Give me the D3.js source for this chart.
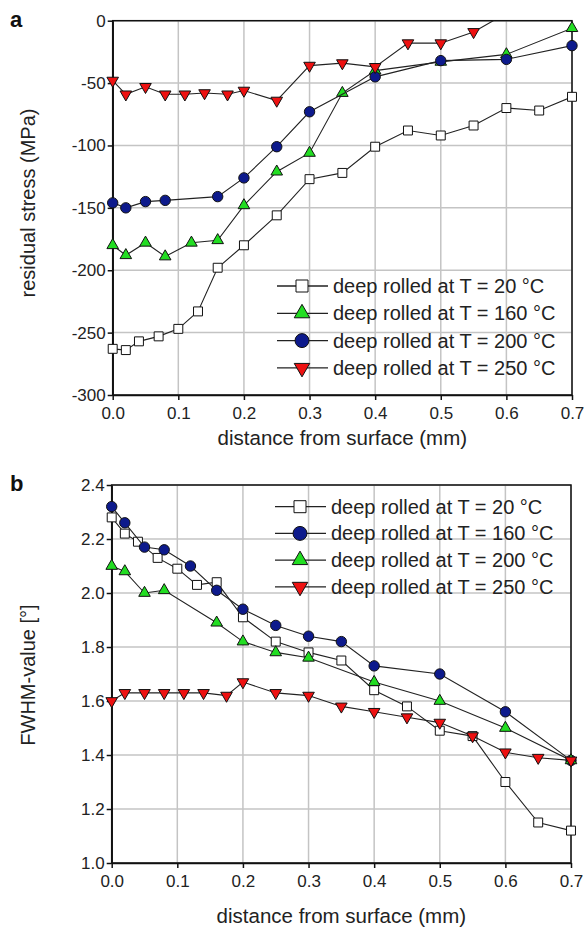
<!DOCTYPE html>
<html>
<head>
<meta charset="utf-8">
<script src="https://cdn.jsdelivr.net/npm/d3@7"></script>
<style>
  body { margin: 0; background: #fff; }
  svg { display: block; font-family: "Liberation Sans", Arial, sans-serif; }
</style>
</head>
<body>
<svg id="chart"></svg>
<script>
// ticks
const depthTicks = [0, 0.1, 0.2, 0.3, 0.4, 0.5, 0.6, 0.7];
const stressTicks = [0, -50, -100, -150, -200, -250, -300];
const fwhmTicks = [2.4, 2.2, 2.0, 1.8, 1.6, 1.4, 1.2, 1.0];

// panel a: residual stress (MPa)
const depthA20 = [0, 0.02, 0.04, 0.07, 0.1, 0.13, 0.16, 0.2, 0.25, 0.3, 0.35, 0.4, 0.45, 0.5, 0.55, 0.6, 0.65, 0.7];
const stressA20 = [-263, -264, -257, -253, -247, -233, -198, -180, -156, -127, -122, -101, -88, -92, -84, -70, -72, -61];
const depthA160 = [0, 0.02, 0.05, 0.08, 0.12, 0.16, 0.2, 0.25, 0.3, 0.35, 0.4, 0.5, 0.6, 0.7];
const stressA160 = [-180, -188, -178, -189, -178, -176, -148, -121, -106, -58, -40, -33, -27, -6];
const depthA200 = [0, 0.02, 0.05, 0.08, 0.16, 0.2, 0.25, 0.3, 0.4, 0.5, 0.6, 0.7];
const stressA200 = [-146, -150, -145, -144, -141, -126, -101, -73, -45, -32, -31, -20];
const depthA250 = [0, 0.02, 0.05, 0.08, 0.11, 0.14, 0.175, 0.2, 0.25, 0.3, 0.35, 0.4, 0.45, 0.5, 0.55, 0.6];
const stressA250 = [-48, -59, -53, -59, -59, -58, -59, -56, -64, -36, -34, -37, -18, -18, -9, 6];

// panel b: FWHM-value (°)
const depthB20 = [0, 0.02, 0.04, 0.07, 0.1, 0.13, 0.16, 0.2, 0.25, 0.3, 0.35, 0.4, 0.45, 0.5, 0.55, 0.6, 0.65, 0.7];
const fwhmB20 = [2.28, 2.22, 2.19, 2.13, 2.09, 2.03, 2.04, 1.91, 1.82, 1.78, 1.75, 1.64, 1.58, 1.49, 1.47, 1.30, 1.15, 1.12];
const depthB160 = [0, 0.02, 0.05, 0.08, 0.12, 0.16, 0.2, 0.25, 0.3, 0.35, 0.4, 0.5, 0.6, 0.7];
const fwhmB160 = [2.32, 2.26, 2.17, 2.16, 2.10, 2.01, 1.94, 1.88, 1.84, 1.82, 1.73, 1.70, 1.56, 1.38];
const depthB200 = [0, 0.02, 0.05, 0.08, 0.16, 0.2, 0.25, 0.3, 0.4, 0.5, 0.6, 0.7];
const fwhmB200 = [2.10, 2.08, 2.00, 2.01, 1.89, 1.82, 1.78, 1.76, 1.67, 1.60, 1.50, 1.38];
const depthB250 = [0, 0.02, 0.05, 0.08, 0.11, 0.14, 0.175, 0.2, 0.25, 0.3, 0.35, 0.4, 0.45, 0.5, 0.55, 0.6, 0.65, 0.7];
const fwhmB250 = [1.60, 1.63, 1.63, 1.63, 1.63, 1.63, 1.62, 1.67, 1.63, 1.62, 1.58, 1.56, 1.54, 1.52, 1.47, 1.41, 1.39, 1.38];

const labels = ["deep rolled at T = 20 °C", "deep rolled at T = 160 °C", "deep rolled at T = 200 °C", "deep rolled at T = 250 °C"];

const square = { shape: d3.symbolSquare, size: 80, rot: 0, fill: "#ffffff" };
const triUp = { shape: d3.symbolTriangle, size: 58, rot: 0, fill: "#22dd22" };
const circle = { shape: d3.symbolCircle, size: 85, rot: 0, fill: "#0d1a8c" };
const triDown = { shape: d3.symbolTriangle, size: 58, rot: 180, fill: "#ee1111" };

const zip = (xs, ys) => xs.map((x, i) => ({ x: x, y: ys[i] }));

const svg = d3.select("#chart")
    .attr("width", 585)
    .attr("height", 935);

function drawPanel(p) {
    const g = svg.append("g");
    const x = d3.scaleLinear().domain([0, 0.7]).range([p.left, p.right]);
    const y = d3.scaleLinear().domain(p.yDomain).range([p.bottom, p.top]);

  // gridlines
    g.selectAll(".vgrid")
        .data(depthTicks)
        .enter()
        .append("line")
        .attr("x1", d => x(d)).attr("x2", d => x(d))
        .attr("y1", p.top).attr("y2", p.bottom)
        .attr("stroke", "#c4c4c4")
        .attr("stroke-width", 1.5);

    g.selectAll(".hgrid")
        .data(p.yTicks)
        .enter()
        .append("line")
        .attr("x1", p.left).attr("x2", p.right)
        .attr("y1", d => y(d)).attr("y2", d => y(d))
        .attr("stroke", "#c4c4c4")
        .attr("stroke-width", 1.5);

  // axes
    const xAxis = g.append("g")
        .attr("transform", `translate(0,${p.bottom})`)
        .call(d3.axisBottom(x).tickValues(depthTicks).tickFormat(d3.format(".1f")).tickSize(5).tickSizeOuter(0));
    const yAxis = g.append("g")
        .attr("transform", `translate(${p.left},0)`)
        .call(d3.axisLeft(y).tickValues(p.yTicks).tickFormat(p.fmt).tickSize(5).tickSizeOuter(0));

    [xAxis, yAxis].forEach(a => {
        a.selectAll("path, line").attr("stroke", "#111").attr("stroke-width", 1.5);
        a.selectAll("text")
            .attr("font-size", 17)
            .attr("font-family", "Liberation Sans, Arial, sans-serif")
            .attr("fill", "#222");
    });
    xAxis.selectAll("text").attr("dy", "0.95em");
    yAxis.selectAll("text").attr("x", -7);

    g.append("rect")
        .attr("x", p.left).attr("y", p.top)
        .attr("width", p.right - p.left).attr("height", p.bottom - p.top)
        .attr("fill", "none")
        .attr("stroke", "#111")
        .attr("stroke-width", 1.5);

  // clip for lines
    const clipId = "clip-" + p.name;
    svg.append("clipPath").attr("id", clipId)
        .append("rect")
        .attr("x", p.left).attr("y", p.top)
        .attr("width", p.right - p.left).attr("height", p.bottom - p.top);

    const line = d3.line().x(d => x(d.x)).y(d => y(d.y));

  // series
    p.series.forEach(s => {
        g.append("path")
            .datum(s.data)
            .attr("d", line)
            .attr("fill", "none")
            .attr("stroke", "#222")
            .attr("stroke-width", 1.1)
            .attr("clip-path", `url(#${clipId})`);

        g.selectAll(null)
            .data(s.data.filter(d => d.y >= p.yDomain[0] && d.y <= p.yDomain[1]))
            .enter()
            .append("path")
            .attr("d", d3.symbol().type(s.sym.shape).size(s.sym.size))
            .attr("transform", d => `translate(${x(d.x)},${y(d.y)}) rotate(${s.sym.rot})`)
            .attr("fill", s.sym.fill)
            .attr("stroke", "#111")
            .attr("stroke-width", 1);
    });

  // legend
    const leg = g.append("g");
    p.series.forEach((s, i) => {
        const ly = p.legY + i * p.legStep;
        leg.append("line")
            .attr("x1", p.legX).attr("x2", p.legX + 51)
            .attr("y1", ly).attr("y2", ly)
            .attr("stroke", "#222")
            .attr("stroke-width", 1.3);
        leg.append("path")
            .attr("d", d3.symbol().type(s.sym.shape).size(s.sym.size * 1.8))
            .attr("transform", `translate(${p.legX + 25},${ly}) rotate(${s.sym.rot})`)
            .attr("fill", s.sym.fill)
            .attr("stroke", "#111")
            .attr("stroke-width", 1);
        leg.append("text")
            .attr("x", p.legX + 56)
            .attr("y", ly)
            .attr("dy", "0.35em")
            .attr("font-size", 20)
            .attr("fill", "#222")
            .text(s.label);
    });

  // titles
    g.append("text")
        .attr("x", (p.left + p.right) / 2)
        .attr("y", p.xTitleY)
        .attr("text-anchor", "middle")
        .attr("font-size", 20.5)
        .attr("fill", "#222")
        .text("distance from surface (mm)");

    g.append("text")
        .attr("transform", `translate(35,${p.yTitleMid}) rotate(-90)`)
        .attr("text-anchor", "middle")
        .attr("font-size", 20)
        .attr("fill", "#222")
        .text(p.yTitle);

    g.append("text")
        .attr("x", 10)
        .attr("y", p.top + 6)
        .attr("font-size", 22)
        .attr("font-weight", "bold")
        .attr("fill", "#111")
        .text(p.name);
}

drawPanel({
    name: "a",
    left: 112.7, right: 572, top: 20.7, bottom: 395,
    yDomain: [-300, 0],
    yTicks: stressTicks,
    fmt: d => String(d),
    yTitle: "residual stress (MPa)",
    yTitleMid: 203,
    xTitleY: 445,
    legX: 277, legY: 286, legStep: 27.3,
    series: [
        { data: zip(depthA20, stressA20), sym: square, label: labels[0] },
        { data: zip(depthA160, stressA160), sym: triUp, label: labels[1] },
        { data: zip(depthA200, stressA200), sym: circle, label: labels[2] },
        { data: zip(depthA250, stressA250), sym: triDown, label: labels[3] }
    ]
});

drawPanel({
    name: "b",
    left: 111.7, right: 571, top: 485, bottom: 863,
    yDomain: [1.0, 2.4],
    yTicks: fwhmTicks,
    fmt: d3.format(".1f"),
    yTitle: "FWHM-value [°]",
    yTitleMid: 675,
    xTitleY: 923,
    legX: 275, legY: 506.7, legStep: 26.7,
    series: [
        { data: zip(depthB20, fwhmB20), sym: square, label: labels[0] },
        { data: zip(depthB160, fwhmB160), sym: circle, label: labels[1] },
        { data: zip(depthB200, fwhmB200), sym: triUp, label: labels[2] },
        { data: zip(depthB250, fwhmB250), sym: triDown, label: labels[3] }
    ]
});
</script>
</body>
</html>
